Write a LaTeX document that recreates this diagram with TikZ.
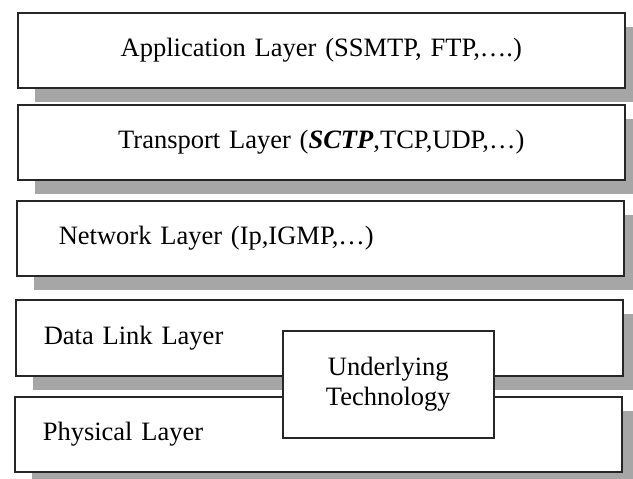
\documentclass[tikz,border=0pt]{standalone}
\usepackage{fontspec}
\setmainfont{Liberation Serif}
\usepackage{tikz}
\usetikzlibrary{shadows, positioning}
\definecolor{shadowgray}{HTML}{A6A6A6}

\begin{document}
\begin{tikzpicture}[
			x=1pt, y=-1pt,
			every node/.style={font=\fontsize{26.5}{30}\selectfont},
			layer/.style={draw=black!85, line width=1.6pt, fill=white, rectangle, anchor=north west,
				minimum height=75pt, inner xsep=28pt, text width=551pt, align=center,
				drop shadow={shadow xshift=17pt, shadow yshift=-14pt, fill=shadowgray, opacity=1}},
			leftlayer/.style={layer, align=left},
			tech/.style={draw=black!85, line width=1.6pt, fill=white, rectangle, anchor=north west,
				minimum width=211pt, minimum height=107pt, align=center}
			]
			\path[use as bounding box, clip] (0,0) rectangle (633,479);
			
			% Nodes
			\node (application) [layer] at (17,12) {Application Layer (SSMTP, FTP,….)};
			\node (transport) [layer] at (17,104) {Transport Layer (\textbf{\textit{SCTP}},TCP,UDP,…)};
			\node (network) [leftlayer, inner xsep=42pt, text width=523pt] at (16,200) {Network Layer (Ip,IGMP,…)};
			\node (datalink) [leftlayer, minimum height=76pt] at (15,299) {Data Link Layer};
			\node (physical) [leftlayer] at (14,396) {Physical Layer};
			\node (underlying) [tech] at (282,330) {Underlying\\Technology};
			
		\end{tikzpicture}
\end{document}
